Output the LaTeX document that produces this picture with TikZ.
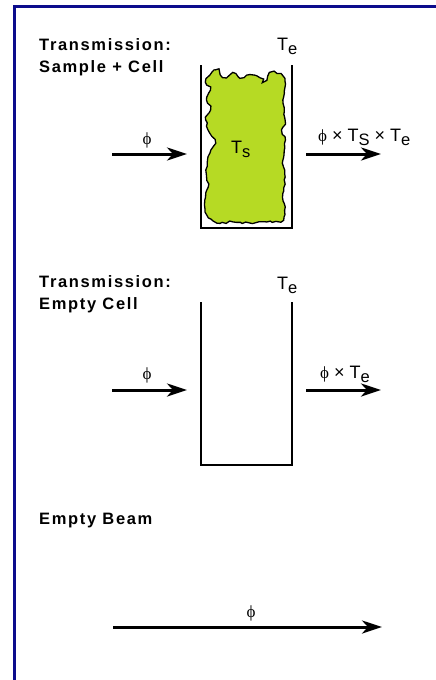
\documentclass[tikz,border=0pt]{standalone}
\usepackage{fontspec}
\setmainfont{Liberation Sans}
\newfontfamily\headfamily[LetterSpace=10]{Liberation Sans}
\newfontfamily\phifamily{Liberation Serif}
\usetikzlibrary{arrows.meta,decorations.pathmorphing}
\definecolor{frameblue}{RGB}{12,12,140}
\definecolor{samplegreen}{RGB}{182,218,36}
\newcommand\subtxt[1]{\raisebox{-4.5pt}{\fontsize{16.5}{16.5}\selectfont #1}}
\newcommand\phisym{{\phifamily\fontsize{17}{17}\selectfont ϕ}}

\begin{document}
\begin{tikzpicture}[x=1pt,y=-1pt]
\useasboundingbox (0,0) rectangle (436,680);
\draw[frameblue,line width=2.5pt] (14.5,700) -- (14.5,6.3) -- (460,6.3);

\pgfmathsetseed{11}
\filldraw[fill=samplegreen,draw=black,line width=1.3pt,decorate,
    decoration={random steps,segment length=3.5pt,amplitude=1pt}]
  plot[smooth cycle,tension=0.55] coordinates {(206,82) (215,70) (223,77) (233,73)
  (240,78) (250,75) (260,78) (263,82) (270,73) (282,75) (285,87) (283,100)
  (285,120) (282,130) (285,140) (283,160) (285,177) (283,193) (285,207)
  (283,220) (267,222) (250,223) (233,222) (217,223) (207,215) (205,200)
  (208,187) (206,170) (210,153) (215,143) (210,133) (206,120) (210,110)
  (207,100) (210,90)};

\draw[line width=2pt] (201,65) -- (201,228) -- (292,228) -- (292,65);
\draw[line width=2pt] (201,302) -- (201,465) -- (292,465) -- (292,302);

\begin{scope}[every node/.style={inner sep=0pt,anchor=north west,align=left,
              font=\headfamily\bfseries\fontsize{16.5}{22}\selectfont}]
    \node (tsc) at (39,38.5) {Transmission:\\Sample + Cell};
    \node (tec) at (39,275) {Transmission:\\Empty Cell};
    \node (eb) at (39,513) {Empty Beam};
\end{scope}

\begin{scope}[every node/.style={inner sep=0pt,font=\fontsize{18}{18}\selectfont}]
    \node[anchor=base west] (te1) at (277,50) {T\subtxt{e}};
    \node[anchor=base west] (te2) at (277,289) {T\subtxt{e}};
    \node[anchor=base west] (ts) at (231,153) {T\subtxt{s}};
    \node[anchor=base] (phi1) at (147,144) {\phisym};
    \node[anchor=base] (phi2) at (147,379) {\phisym};
    \node[anchor=base] (phi3) at (251,617) {\phisym};
    \node[anchor=base west] (out1) at (318,141) {\phisym{} × T\subtxt{S} × T\subtxt{e}};
    \node[anchor=base west] (out2) at (320,378) {\phisym{} × T\subtxt{e}};
\end{scope}

\coordinate (a1) at (112,154);
\coordinate (b1) at (187,154);
\coordinate (c1) at (306,154);
\coordinate (d1) at (381,154);
\coordinate (a2) at (112,390);
\coordinate (b2) at (187,390);
\coordinate (c2) at (306,390);
\coordinate (d2) at (381,390);
\coordinate (a3) at (113,627);
\coordinate (b3) at (382,627);

\begin{scope}[>={Stealth[length=20pt,width=13pt,inset=6pt]},
              every edge/.style={draw,line width=3pt}]
    \path [->] (a1) edge (b1);
    \path [->] (c1) edge (d1);
    \path [->] (a2) edge (b2);
    \path [->] (c2) edge (d2);
    \path [->] (a3) edge (b3);
\end{scope}
\end{tikzpicture}
\end{document}
